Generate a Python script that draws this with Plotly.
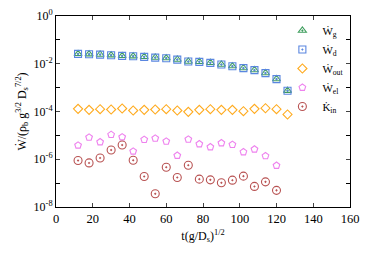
import plotly.graph_objects as go

t_full = [12, 18, 24, 30, 36, 42, 48, 54, 60, 66, 72, 78, 84, 90, 96, 102, 108, 114, 120, 126]
t_short = t_full[:19]

W_g = [2.61e-2, 2.53e-2, 2.44e-2, 2.30e-2, 2.15e-2, 2.09e-2, 1.96e-2, 1.83e-2, 1.73e-2, 1.51e-2,
       1.25e-2, 1.21e-2, 1.10e-2, 9.35e-3, 8.0e-3, 6.62e-3, 5.46e-3, 4.09e-3, 2.3e-3, 7.5e-4]
W_d = [2.58e-2, 2.50e-2, 2.42e-2, 2.28e-2, 2.13e-2, 2.07e-2, 1.94e-2, 1.81e-2, 1.71e-2, 1.49e-2,
       1.24e-2, 1.20e-2, 1.09e-2, 9.25e-3, 7.9e-3, 6.55e-3, 5.40e-3, 4.05e-3, 2.27e-3, 7.4e-4]
W_out = [1.294e-4, 1.178e-4, 1.247e-4, 1.211e-4, 1.334e-4, 1.101e-4, 1.178e-4, 1.211e-4, 1.247e-4, 1.101e-4,
         9.70e-5, 1.178e-4, 1.247e-4, 1.178e-4, 1.178e-4, 1.028e-4, 1.294e-4, 1.371e-4, 1.247e-4, 7.50e-5]
W_el = [3.83e-6, 8.26e-6, 5.26e-6, 1.07e-5, 8.49e-6, 2.15e-6, 6.62e-6, 7.50e-6, 5.62e-6, 1.43e-6,
        6.81e-6, 4.34e-6, 3.25e-6, 4.78e-6, 4.09e-6, 2.01e-6, 2.61e-6, 1.37e-6, 5.46e-7]
K_in = [8.83e-7, 7.02e-7, 1.13e-6, 2.44e-6, 3.94e-6, 9.08e-7, 1.90e-7, 3.58e-8, 4.65e-7, 1.73e-7,
        5.62e-7, 1.47e-7, 1.37e-7, 1.03e-7, 1.33e-7, 1.96e-7, 7.28e-8, 1.13e-7, 4.97e-8]

labels = ["Ẇ<sub>g</sub>", "Ẇ<sub>d</sub>", "Ẇ<sub>out</sub>", "Ẇ<sub>el</sub>", "K̇<sub>in</sub>"]
y_tickvals = [1e0, 1e-2, 1e-4, 1e-6, 1e-8]
y_ticktext = ["10<sup>0</sup>", "10<sup>-2</sup>", "10<sup>-4</sup>", "10<sup>-6</sup>", "10<sup>-8</sup>"]
y_minor = [1e-1, 1e-3, 1e-5, 1e-7]
x_ticks = [0, 20, 40, 60, 80, 100, 120, 140, 160]

FONT = "Liberation Serif"

series = [
    (t_full, W_g, "triangle-up-open-dot", "#3f9e5e", 7),
    (t_full, W_d, "square-open-dot", "#5a86e0", 7),
    (t_full, W_out, "diamond-open", "#ffab1f", 7),
    (t_short, W_el, "pentagon-open", "#ee82ee", 7),
    (t_short, K_in, "circle-open-dot", "#b85252", 8),
]

fig = go.Figure()
for (xs, ys, sym, col, sz), name in zip(series, labels):
    fig.add_trace(go.Scatter(
        x=xs, y=ys, mode="markers", name=name,
        marker=dict(symbol=sym, color=col, size=sz, line=dict(color=col, width=1.1)),
    ))

# the page body adds an 8px offset, so the figure is sized 366x254
fig.update_layout(
    width=366, height=254,
    margin=dict(l=48, r=24, t=8, b=55, autoexpand=False),
    paper_bgcolor="white", plot_bgcolor="white",
    font=dict(family=FONT, size=12, color="black"),
    showlegend=True,
    legend=dict(x=0.77, y=1.0, xanchor="left", yanchor="top",
                bgcolor="rgba(0,0,0,0)", font=dict(family=FONT, size=11),
                tracegroupgap=0, itemwidth=30),
    xaxis=dict(range=[0, 160], tickvals=x_ticks, ticks="inside", ticklen=4,
               showline=True, linecolor="black", linewidth=1, mirror="allticks",
               showgrid=False, zeroline=False, automargin=False,
               ticklabeloverflow="allow",
               tickfont=dict(family=FONT, size=12.5),
               title=dict(text="t(g/D<sub>s</sub>)<sup>1/2</sup>", standoff=6,
                          font=dict(family=FONT, size=12))),
    yaxis=dict(type="log", range=[-8, 0], tickvals=y_tickvals, ticktext=y_ticktext,
               ticks="inside", ticklen=4,
               minor=dict(tickvals=y_minor, ticks="inside", ticklen=4, tickcolor="black"),
               showline=True, linecolor="black", linewidth=1, mirror="allticks",
               showgrid=False, zeroline=False, automargin=False,
               ticklabeloverflow="allow",
               tickfont=dict(family=FONT, size=12),
               title=dict(text="Ẇ/(ρ<sub>b</sub> g<sup>3/2</sup> D<sub>s</sub><sup>7/2</sup>)", standoff=4,
                          font=dict(family=FONT, size=12))),
)

fig.write_html("out.html")
